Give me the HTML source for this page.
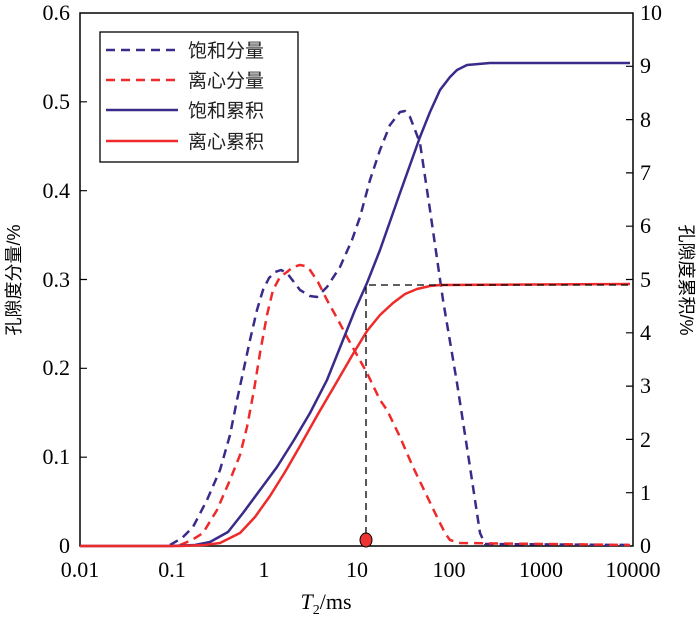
<!DOCTYPE html>
<html><head><meta charset="utf-8"><style>body{margin:0;background:#fff} .s{font-family:"Liberation Serif","Times New Roman",serif} .c{font-family:"Liberation Sans","Noto Sans CJK SC",sans-serif}</style></head><body>
<svg width="700" height="621" xmlns="http://www.w3.org/2000/svg">
<rect width="700" height="621" fill="#fff"/>
<g stroke="#000" stroke-width="1.5" fill="none">
<rect x="80" y="13" width="553" height="533"/>
</g>
<g stroke="#000" stroke-width="1.2">
<path d="M80 457.2h7M80 368.3h7M80 279.5h7M80 190.7h7M80 101.8h7"/>
<path d="M633 492.7h-7M633 439.4h-7M633 386.1h-7M633 332.8h-7M633 279.5h-7M633 226.2h-7M633 172.9h-7M633 119.6h-7M633 66.3h-7"/>
</g>
<g id="xt" stroke="#000" stroke-width="1.2"></g>
<g font-size="22" fill="#000" class="s" font-family="Liberation Serif, serif">
<g text-anchor="end">
<text x="70" y="553">0</text><text x="70" y="464">0.1</text><text x="70" y="375">0.2</text><text x="70" y="287">0.3</text><text x="70" y="198">0.4</text><text x="70" y="109">0.5</text><text x="70" y="20">0.6</text>
</g>
<g text-anchor="start">
<text x="640" y="553">0</text><text x="640" y="500">1</text><text x="640" y="447">2</text><text x="640" y="393">3</text><text x="640" y="340">4</text><text x="640" y="287">5</text><text x="640" y="233">6</text><text x="640" y="180">7</text><text x="640" y="127">8</text><text x="640" y="73">9</text><text x="640" y="20">10</text>
</g>
<g text-anchor="middle">
<text x="80" y="577">0.01</text><text x="172" y="577">0.1</text><text x="264" y="577">1</text><text x="357" y="577">10</text><text x="449" y="577">100</text><text x="541" y="577">1000</text><text x="633" y="577">10000</text>
</g>
<text x="326" y="609" text-anchor="middle"><tspan font-style="italic">T</tspan><tspan font-size="14" dy="5">2</tspan><tspan dy="-5">/ms</tspan></text>
</g>
<g class="c" font-size="18" fill="#000">
<text transform="translate(20,280) rotate(-90)" text-anchor="middle">孔隙度分量/%</text>
<text transform="translate(680,280) rotate(90)" text-anchor="middle">孔隙度累积/%</text>
</g>
<g fill="none" stroke-width="2.5" stroke-linejoin="round">
<polyline stroke="#3a2a8a" stroke-dasharray="9,6" points="170,545 182,538 193,527 207,500 220,470 230,435 237,400 244,368 250,340 257,310 263,290 269,278 275,272 281,270 287,273 300,290 310,296 317,297 327,287 340,267 352,240 360,217 370,180 380,150 390,125 400,112 405,111 410,117 420,143 430,210 443,300 457,383 470,467 480,533 485,544 630,545"/>
<polyline stroke="#ee2a2a" stroke-dasharray="9,6" points="180,545 192,540 203,533 217,510 230,480 240,455 247,427 254,390 260,353 267,315 273,290 280,277 287,272 293,267 300,265 305,266 310,270 318,282 327,300 337,318 347,337 357,355 367,373 380,400 387,410 400,437 413,467 425,492 437,517 445,533 450,540 460,543 630,545"/>
<polyline stroke="#3a2a8a" points="80,546 170,546 195,545 210,542 228,532 243,513 260,490 277,467 294,440 310,413 327,380 343,340 355,310 367,283 380,250 400,193 420,137 430,112 440,90 450,77 457,70 467,65 490,63 630,63"/>
<polyline stroke="#ee2a2a" points="80,546 180,546 205,545 220,543 240,533 255,517 270,496 285,472 300,446 318,414 335,385 353,354 367,331 380,315 393,303 405,294 417,289 430,286 440,285 630,284"/>
</g>
<path d="M366 546V285H630" stroke="#000" stroke-width="1.3" stroke-dasharray="7,5" fill="none"/>
<ellipse cx="366" cy="540" rx="6" ry="7" fill="#e33" stroke="#000" stroke-width="1"/>
<rect x="100" y="32" width="198" height="130" fill="#fff" stroke="#000" stroke-width="1.3"/>
<g stroke-width="2.5">
<line x1="106" y1="50" x2="178" y2="50" stroke="#3a2a8a" stroke-dasharray="9,6"/>
<line x1="106" y1="80" x2="178" y2="80" stroke="#ee2a2a" stroke-dasharray="9,6"/>
<line x1="106" y1="110" x2="178" y2="110" stroke="#3a2a8a"/>
<line x1="106" y1="141" x2="178" y2="141" stroke="#ee2a2a"/>
</g>
<g class="c" font-size="19" fill="#222">
<text x="188" y="57">饱和分量</text><text x="188" y="87">离心分量</text><text x="188" y="117">饱和累积</text><text x="188" y="148">离心累积</text>
</g>
<script>
var g=document.getElementById('xt'),s='';
for(var d=0;d<6;d++)for(var m=1;m<10;m++){var x=80+(d+Math.log10(m))*92.2;var h=m==1?9:6;s+='<line x1="'+x+'" y1="546" x2="'+x+'" y2="'+(546-h)+'"/>';}
g.innerHTML=s;
</script>
</svg>
</body></html>
